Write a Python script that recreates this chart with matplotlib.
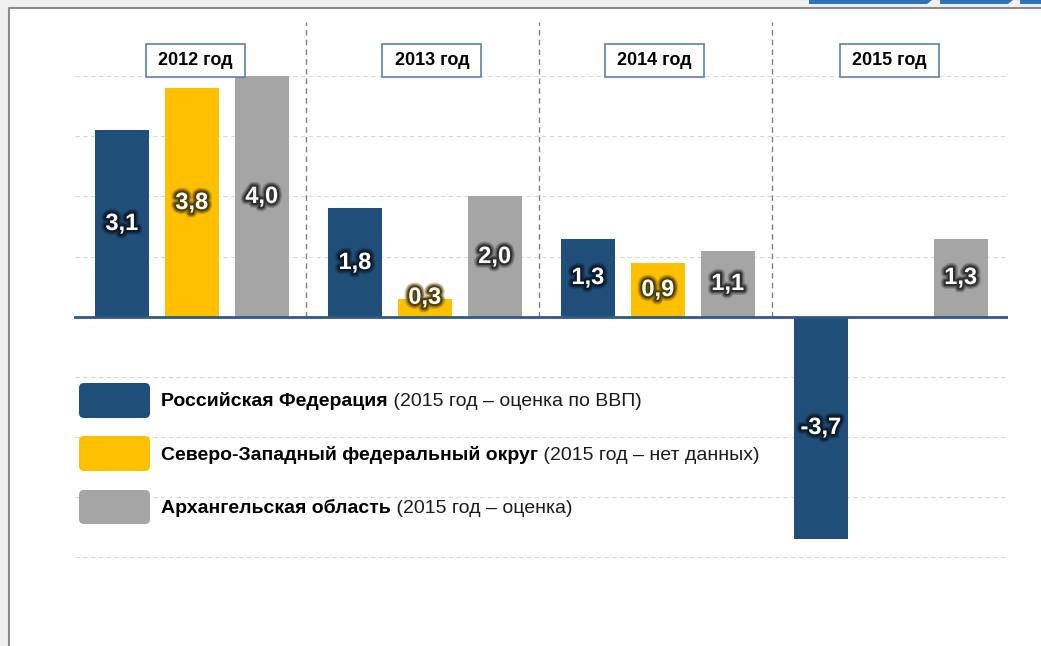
import numpy as np
import matplotlib
matplotlib.use('Agg')
import matplotlib.pyplot as plt
import matplotlib.patheffects as pe
from matplotlib.patches import Rectangle, FancyBboxPatch, Polygon
from matplotlib.lines import Line2D
from matplotlib.transforms import IdentityTransform

# ===========================
# Данные
# ===========================
years = ['2012 год', '2013 год', '2014 год', '2015 год']
series_names = ['Российская Федерация',
                'Северо-Западный федеральный округ',
                'Архангельская область']
series_notes = ['(2015 год – оценка по ВВП)',
                '(2015 год – нет данных)',
                '(2015 год – оценка)']
rf = [3.1, 1.8, 1.3, -3.7]
szfo = [3.8, 0.3, 0.9, None]
arh = [4.0, 2.0, 1.1, 1.3]

# ===========================
# Оформление
# ===========================
W, H, DPI = 1041, 646, 100
colors = ['#1f4e79', '#ffc000', '#a5a5a5']
glows = ['#0b1826', '#4a3a00', '#2a2a2a']
offsets = [0.21, 0.51, 0.81]
bar_w = 0.232
year_x = [0.527, 1.54, 2.495, 3.503]
FONT = ['Liberation Sans', 'DejaVu Sans']

plt.rcParams['font.family'] = FONT

fig = plt.figure(figsize=(W / DPI, H / DPI), dpi=DPI, facecolor='#f0f0f0')
ident = IdentityTransform()

# фон слайда с рамкой
fig.add_artist(Rectangle((9, 0), W - 9, H - 8, transform=ident,
                         facecolor='white', edgecolor='none', zorder=-10))
fig.add_artist(Line2D([8.5, 8.5, W], [0, H - 7.5, H - 7.5], transform=ident,
                      color='#8c8c8c', lw=1.5, zorder=-9))
# синяя плашка сверху справа
for xs in [(809, 927, 932), (940, 1008, 1013), (1020, 1041, 1041)]:
    fig.add_artist(Polygon([(xs[0], H), (xs[2], H), (xs[1], H - 4), (xs[0], H - 4)],
                           closed=True, transform=ident, facecolor='#2e75b6',
                           edgecolor='none', zorder=-8))

ax = fig.add_axes([73 / W, 0, 935 / W, 1 - 22 / H])
ax.set_facecolor('none')
ax.set_xlim(0, 935 / 233)
ax.set_ylim(-(H - 316.5) / 60, (316.5 - 22) / 60)
ax.axis('off')

ytop = (316.5 - 22) / 60
ax.hlines([-4, -3, -2, -1, 1, 2, 3, 4], 0.008, 935 / 233, colors='#d9d9d9',
          linestyles=(0, (4, 3)), lw=0.8, zorder=1)
ax.vlines([1, 2, 3], 0, ytop, colors='#808080', linestyles=(0, (4, 3)), lw=1.0, zorder=1)

# мягкое "свечение" вокруг подписей значений
def glow(color):
    return [pe.withStroke(linewidth=7, foreground=color, alpha=0.25),
            pe.withStroke(linewidth=5, foreground=color, alpha=0.45),
            pe.withStroke(linewidth=3, foreground=color, alpha=0.9)]

for i, vals in enumerate([rf, szfo, arh]):
    xs = [k + offsets[i] for k, v in enumerate(vals) if v is not None]
    vs = [v for v in vals if v is not None]
    ax.bar(xs, vs, width=bar_w, color=colors[i], zorder=2)
    for x, v in zip(xs, vs):
        y = max(v / 2, 0.32) if v > 0 else v / 2
        ax.text(x, y, f'{v:.1f}'.replace('.', ','), ha='center', va='center',
                fontsize=17, fontweight='bold', color='white', zorder=5,
                path_effects=glow(glows[i]))

ax.axhline(0, xmin=0.002, color='#2c5b8b', lw=2, zorder=3)

# подписи годов в рамках
for xc, label in zip(year_x, years):
    ax.add_patch(Rectangle((xc - 0.2125, 4.0), 0.425, 0.55, facecolor='white',
                           edgecolor='#5a80ab', lw=1.2, zorder=4))
    ax.text(xc, 4.27, label, ha='center', va='center', fontsize=13,
            fontweight='bold', color='black', zorder=5)

# легенда
rows = [(383, 418), (436, 471), (490, 524)]
for (top, bot), c, name, note in zip(rows, colors, series_names, series_notes):
    fig.add_artist(FancyBboxPatch((79, H - bot), 71, bot - top, transform=ident,
                                  boxstyle='round,pad=0,rounding_size=5',
                                  facecolor=c, edgecolor='none'))
    yc = (top + bot) / 2 + 1
    t = fig.text(161 / W, 1 - yc / H, name, ha='left', va='center',
                 fontsize=14, fontweight='bold', color='black')
    ax.annotate(' ' + note, xy=(1, 0), xycoords=t, ha='left', va='bottom',
                fontsize=14, color='#1a1a1a', annotation_clip=False)

fig.savefig('out.png', dpi=DPI, facecolor=fig.get_facecolor())
